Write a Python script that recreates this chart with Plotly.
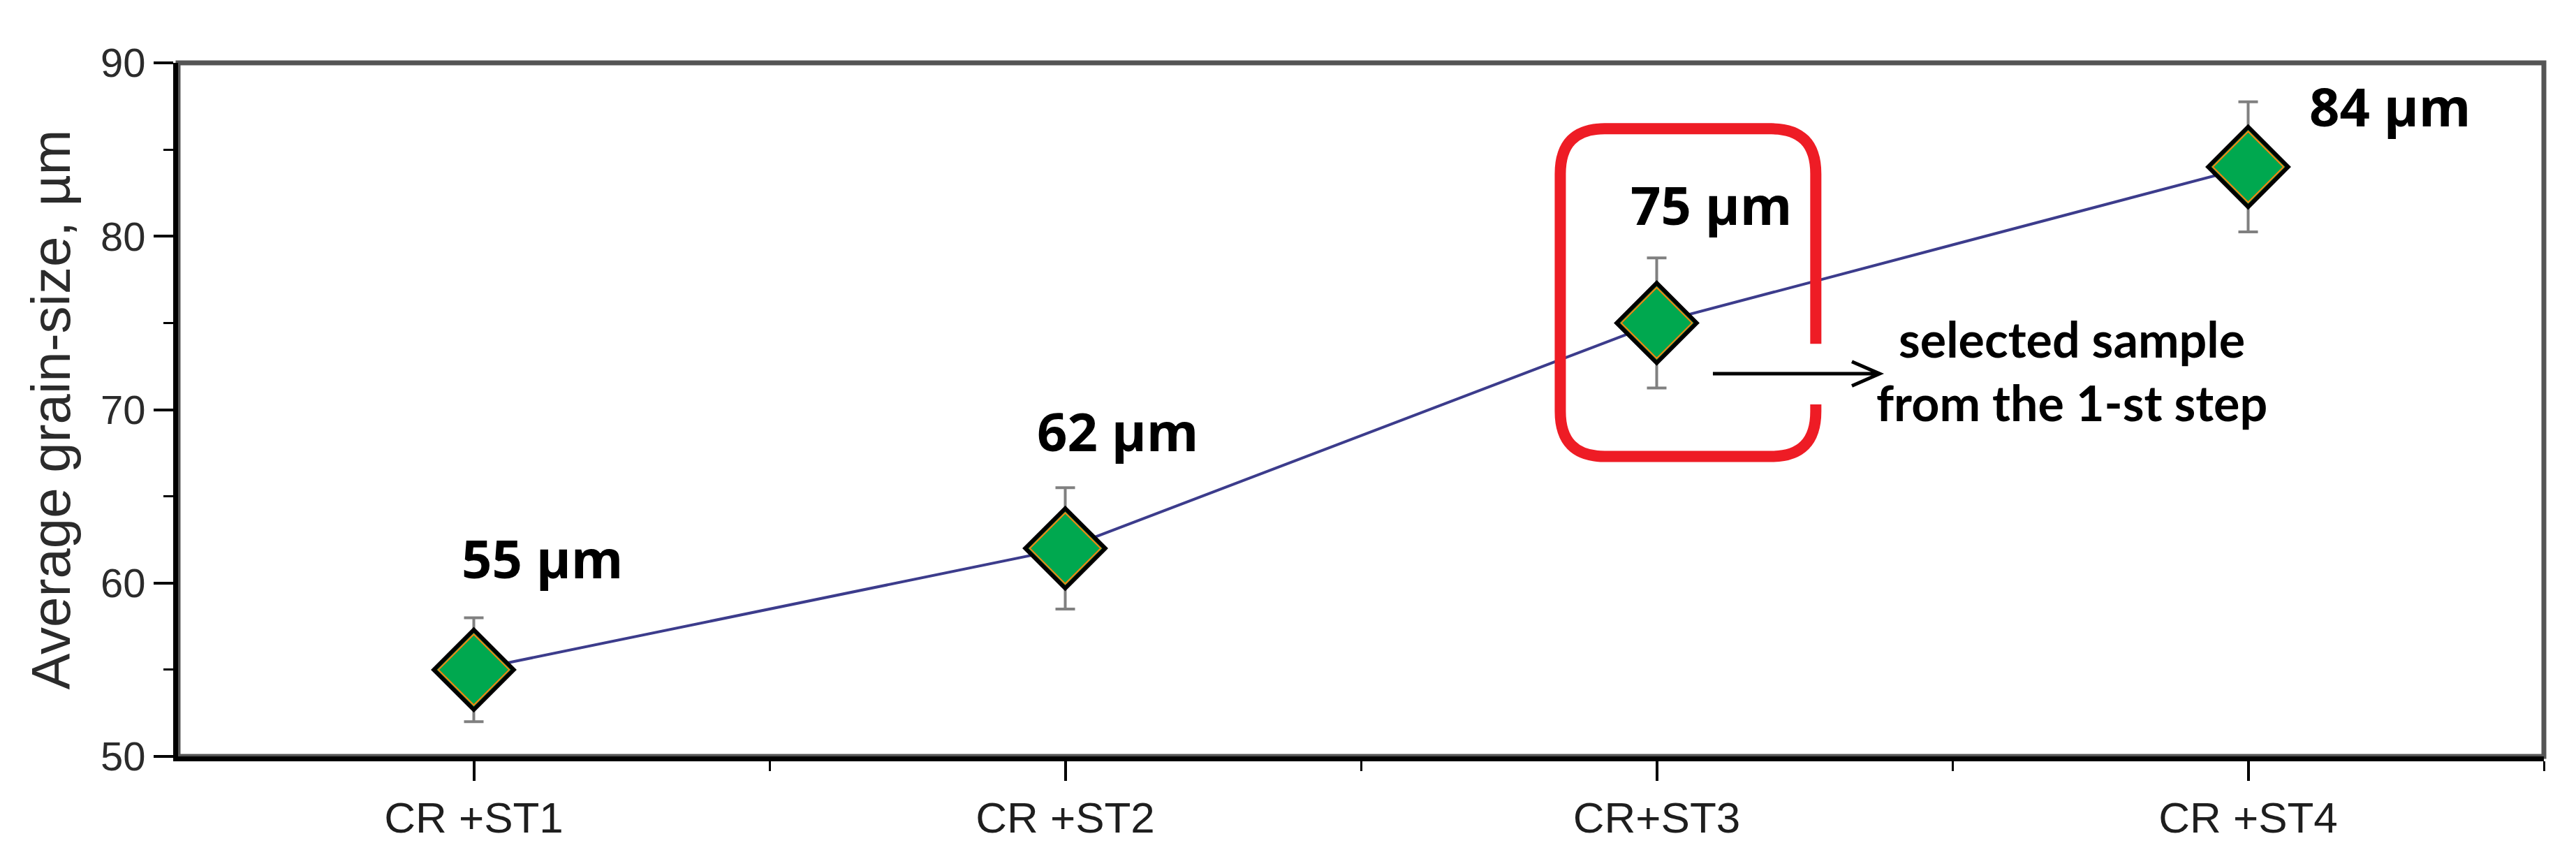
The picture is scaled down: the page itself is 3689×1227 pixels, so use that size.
import plotly.graph_objects as go

categories = ["CR +ST1", "CR +ST2", "CR+ST3", "CR +ST4"]
grain_size = [55, 62, 75, 84]
grain_err = [3.0, 3.5, 3.75, 3.75]
y_ticks = [50, 60, 70, 80, 90]
selected = 2  # index of the highlighted sample

# label offsets (px) for the "xx µm" annotations
label_dx = [98, 75, 78, 203]
label_dy = [160, 169, 170, 87]

x_idx = list(range(len(categories)))

fig = go.Figure()
fig.add_trace(go.Scatter(
    x=x_idx, y=grain_size, mode='lines+markers',
    line=dict(color='#3c3c8c', width=4),
    marker=dict(symbol='diamond', size=88, color='#00a84f',
                line=dict(color='black', width=6)),
    error_y=dict(type='data', array=grain_err, color='#808080',
                 thickness=4, width=14),
    showlegend=False))
# thin light inner outline of the diamonds
fig.add_trace(go.Scatter(
    x=x_idx, y=grain_size, mode='markers',
    marker=dict(symbol='diamond-open', size=78,
                line=dict(color='#8ff5c8', width=2)),
    showlegend=False, hoverinfo='skip'))

for i, v in enumerate(grain_size):
    fig.add_annotation(x=x_idx[i], y=v, text="<b>%d µm</b>" % v, showarrow=False,
                       xshift=label_dx[i], yshift=label_dy[i],
                       font=dict(family="Open Sans", size=76, color='black'))

fig.add_annotation(x=x_idx[selected], y=grain_size[selected],
                   text="<b>selected sample<br>from the 1-st step</b>", showarrow=False,
                   xshift=594, yshift=-68,
                   font=dict(family="Lato", size=70, color='black'))

no_fill = 'rgba(0,0,0,0)'

# red rounded box round the selected sample, open on the right for the arrow
s = x_idx[selected]
x0, x1 = s - 0.163, s + 0.269
y0, y1 = 67.3, 86.2
gap_lo, gap_hi = 70.3, 73.8
rx, ry = 0.075, 2.6
box = (f"M {x1},{gap_lo} L {x1},{y0+ry} Q {x1},{y0} {x1-rx},{y0} "
       f"L {x0+rx},{y0} Q {x0},{y0} {x0},{y0+ry} "
       f"L {x0},{y1-ry} Q {x0},{y1} {x0+rx},{y1} "
       f"L {x1-rx},{y1} Q {x1},{y1} {x1},{y1-ry} L {x1},{gap_hi}")
fig.add_shape(type='path', path=box, xref='x', yref='y', fillcolor=no_fill, opacity=1,
              line=dict(color='#ee1c25', width=16))

ay = 72.07
a0, a1 = s + 0.095, s + 0.377
arrow = (f"M {a0},{ay} L {a1},{ay} M {a1-0.047},{ay+0.7} L {a1},{ay} L {a1-0.047},{ay-0.7}")
fig.add_shape(type='path', path=arrow, xref='x', yref='y', fillcolor=no_fill, opacity=1,
              line=dict(color='black', width=5))

# top / right frame
fig.add_shape(type='rect', xref='x domain', yref='y domain', x0=0, x1=1, y0=0, y1=1,
              fillcolor=no_fill, opacity=1,
              line=dict(color='#555555', width=7), layer='below')

fig.update_xaxes(range=[-0.5, 3.5], tickmode='array', tickvals=x_idx, ticktext=categories,
                 showline=True, linecolor='black', linewidth=7,
                 ticks='outside', ticklen=28, tickwidth=4, tickcolor='black',
                 minor=dict(tickmode='array', tickvals=[i + 0.5 for i in x_idx],
                            ticks='outside', ticklen=14, tickwidth=3, tickcolor='black'),
                 showgrid=False, zeroline=False,
                 tickfont=dict(family="Liberation Sans", size=62, color='#1e1e1e'))
fig.update_yaxes(range=[50, 90], tickvals=y_ticks,
                 showline=True, linecolor='black', linewidth=7,
                 ticks='outside', ticklen=28, tickwidth=4, tickcolor='black',
                 minor=dict(dtick=5, ticks='outside', ticklen=14, tickwidth=3, tickcolor='black'),
                 showgrid=False, zeroline=False,
                 tickfont=dict(family="Liberation Sans", size=58, color='#2b2b2b'),
                 title=dict(text="Average grain-size, µm", standoff=20,
                            font=dict(family="Liberation Sans", size=78, color='#2b2b2b')))

fig.update_layout(width=3689, height=1227, template='simple_white',
                  plot_bgcolor='white', paper_bgcolor='white',
                  margin=dict(l=247, r=54, t=82, b=152, autoexpand=False))

fig.write_html("out.html")
